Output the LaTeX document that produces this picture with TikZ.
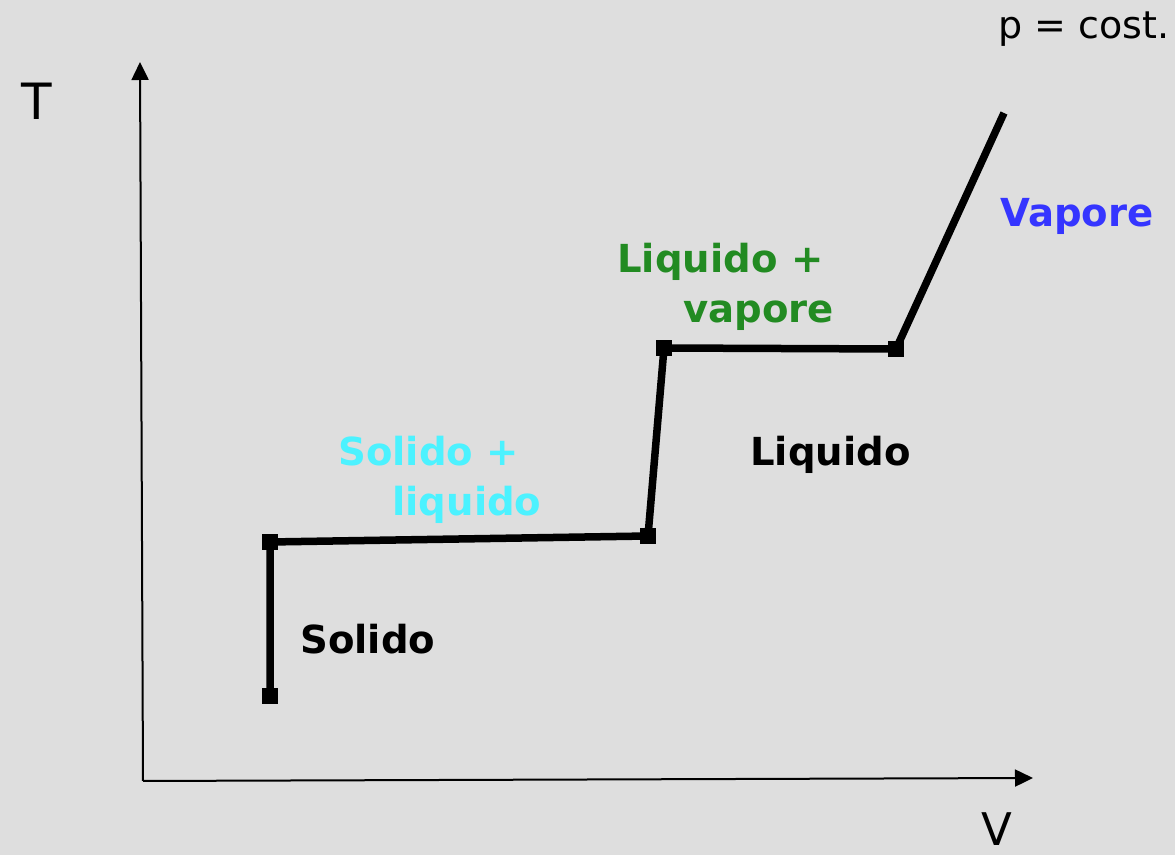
\documentclass[tikz,border=0pt]{standalone}
\usepackage{fontspec}
\setmainfont{DejaVu Sans}
\usetikzlibrary{arrows.meta}

\definecolor{bggray}{HTML}{DEDEDE}
\definecolor{solcyan}{HTML}{4CF2FF}
\definecolor{liqgreen}{HTML}{228B22}
\definecolor{vapblue}{HTML}{3535FF}

\tikzset{
  axis/.style={line width=1pt,-{Triangle[length=9pt,width=8.5pt]}},
  curve/.style={line width=3.75pt},
  knot/.style={fill=black,inner sep=0pt,minimum size=8pt},
  phase/.style={font=\bfseries\fontsize{19.3}{25}\selectfont,inner sep=0pt,anchor=base west,align=left},
  axlabel/.style={inner sep=0pt,anchor=base}
}

\begin{document}
\begin{tikzpicture}[x=0.5pt,y=-0.5pt]
  \fill[bggray] (0,0) rectangle (1175,855);
  \useasboundingbox (0,0) rectangle (1175,855);

  % assi
  \coordinate (o) at (143,781);
  \coordinate (ytip) at (140,62);
  \coordinate (xtip) at (1033,778);
  \draw[axis] (o) -- (ytip);
  \draw[axis] (o) -- (xtip);
  \node[axlabel,font=\fontsize{25}{30}\selectfont] (tlab) at (37,120) {T};
  \node[axlabel,font=\fontsize{22.5}{27}\selectfont] (vlab) at (997,846) {V};
  \node[inner sep=0pt,anchor=base east,font=\fontsize{19}{23}\selectfont] (pcost) at (1170,39) {p = cost.};

  % punti della curva
  \node[knot] (a) at (270,696) {};
  \node[knot] (b) at (270,542) {};
  \node[knot] (c) at (648,536) {};
  \node[knot] (d) at (664,348) {};
  \node[knot] (e) at (896,349) {};
  \coordinate (f) at (1004,113);
  \draw[curve] (a.center) -- (b.center) -- (c.center) -- (d.center) -- (e.center) -- (f);

  % fasi
  \node[phase] (sol) at (300,654) {Solido};
  \node[phase,text=solcyan] (solliq) at (338,516) {Solido +\\\hspace*{27pt}liquido};
  \node[phase] (liq) at (750,466) {Liquido};
  \node[phase,text=liqgreen] (liqvap) at (617,323) {Liquido +\\\hspace*{33pt}vapore};
  \node[phase,text=vapblue] (vap) at (1000,227) {Vapore};
\end{tikzpicture}
\end{document}
